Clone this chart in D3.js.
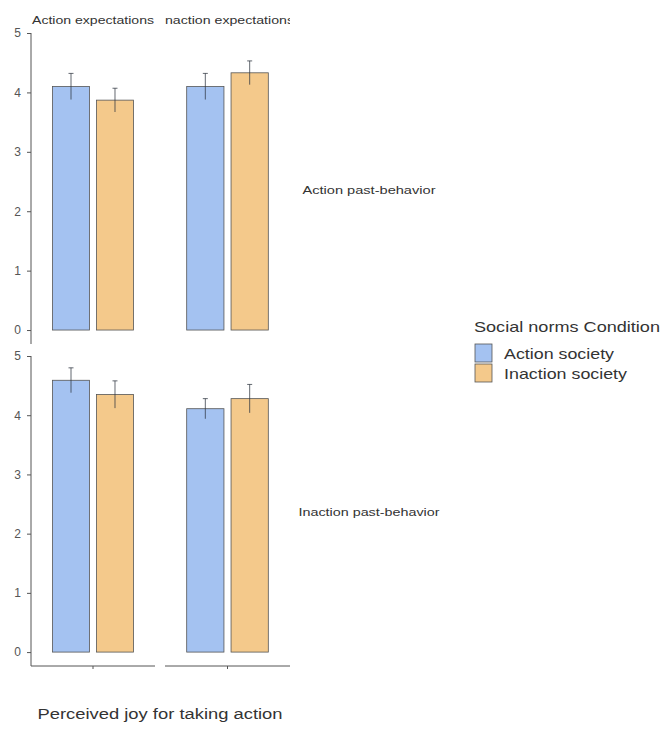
<!DOCTYPE html>
<html>
<head>
<meta charset="utf-8">
<script src="https://cdn.jsdelivr.net/npm/d3@7"></script>
<style>
  html, body { margin: 0; padding: 0; background: #fff; }
  svg { display: block; font-family: "Liberation Sans", Arial, sans-serif; }
</style>
</head>
<body>
<svg id="chart" width="663" height="729"></svg>
<script>
// Facet layout: columns = expectations, rows = past behaviour
const columns = ["Action expectations", "Inaction expectations"];
const rows = ["Action past-behavior", "Inaction past-behavior"];
const conditions = ["Action society", "Inaction society"];
const yTicks = [0, 1, 2, 3, 4, 5];

// Mean perceived joy, indexed [row][column][condition]
const means = [
  [[4.10, 3.87], [4.10, 4.33]],
  [[4.59, 4.35], [4.11, 4.28]]
];
// Error-bar half widths, same indexing
const errors = [
  [[0.22, 0.20], [0.22, 0.20]],
  [[0.21, 0.23], [0.17, 0.24]]
];

const colors = ["#a4c2f1", "#f4c98b"];

const svg = d3.select("#chart");

const panelX = [[31, 155], [165, 290]];
const panelY = [[33, 344], [356, 666]];

const color = d3.scaleOrdinal().domain(conditions).range(colors);

// Text helper: glyphs are drawn slightly wide, so each label is stretched to its width
function label(sel, width) {
  return sel.attr("textLength", width).attr("lengthAdjust", "spacingAndGlyphs");
}

rows.forEach((rowName, r) => {
  const y = d3.scaleLinear().domain([-0.235, 5]).range([panelY[r][1], panelY[r][0]]);

  columns.forEach((colName, c) => {
    const [x0, x1] = panelX[c];
    const outer = d3.scaleBand().domain(["joy"]).range([x0, x1]).padding(0.21);
    const inner = d3.scaleBand().domain(conditions).range([0, outer.bandwidth()]).paddingInner(0.16);

    const g = svg.append("g");
    const data = conditions.map((cond, k) => ({
      cond, mean: means[r][c][k], err: errors[r][c][k]
    }));

    g.selectAll("rect.bar").data(data).enter().append("rect")
      .attr("class", "bar")
      .attr("x", d => outer("joy") + inner(d.cond))
      .attr("width", inner.bandwidth())
      .attr("y", d => y(d.mean))
      .attr("height", d => y(0) - y(d.mean))
      .attr("fill", d => color(d.cond))
      .attr("stroke", "#555")
      .attr("stroke-width", 0.8);

    const cx = d => outer("joy") + inner(d.cond) + inner.bandwidth() / 2;
    const eb = g.selectAll("g.err").data(data).enter().append("g")
      .attr("class", "err")
      .attr("stroke", "#2f3540")
      .attr("stroke-opacity", 0.75)
      .attr("stroke-width", 1);
    eb.append("line")
      .attr("x1", cx).attr("x2", cx)
      .attr("y1", d => y(d.mean + d.err)).attr("y2", d => y(d.mean - d.err));
    eb.append("line")
      .attr("x1", d => cx(d) - 2.5).attr("x2", d => cx(d) + 2.5)
      .attr("y1", d => y(d.mean + d.err)).attr("y2", d => y(d.mean + d.err));

    // Y axis on the first column only
    if (c === 0) {
      const ya = svg.append("g")
        .attr("transform", `translate(${x0},0)`)
        .call(d3.axisLeft(y).tickValues(yTicks).tickFormat(d3.format("d")).tickSize(4).tickPadding(6));
      ya.select(".domain").attr("d", `M0,${panelY[r][0]}V${panelY[r][1]}`)
        .attr("stroke", "#555").attr("stroke-width", 1);
      ya.selectAll(".tick line").attr("stroke", "#555");
      ya.selectAll(".tick text").attr("fill", "#555").style("font-size", "12px");
    }

    // X axis on the bottom row only
    if (r === rows.length - 1) {
      const xa = svg.append("g")
        .attr("transform", `translate(0,${panelY[r][1]})`)
        .call(d3.axisBottom(outer).tickSize(3).tickFormat(""));
      xa.select(".domain").attr("d", `M${x0},0H${x1}`)
        .attr("stroke", "#555").attr("stroke-width", 1);
      xa.selectAll(".tick line").attr("stroke", "#555");
    }

    // Column strip labels, clipped to the panel width
    if (r === 0) {
      const clipId = "clip-col-" + c;
      svg.append("clipPath").attr("id", clipId)
        .append("rect").attr("x", x0).attr("y", 5).attr("width", x1 - x0).attr("height", 25);
      svg.append("text")
        .attr("clip-path", `url(#${clipId})`)
        .attr("x", (x0 + x1) / 2).attr("y", 24)
        .attr("text-anchor", "middle")
        .attr("fill", "#333")
        .style("font-size", "11.5px")
        .call(label, c === 0 ? 122 : 133)
        .text(colName);
    }
  });

  // Row strip labels
  svg.append("text")
    .attr("x", 369).attr("y", (panelY[r][0] + panelY[r][1]) / 2 + 5)
    .attr("text-anchor", "middle")
    .attr("fill", "#333")
    .style("font-size", "11.5px")
    .call(label, r === 0 ? 133 : 141)
    .text(rowName);
});

// X axis title
svg.append("text")
  .attr("x", 160).attr("y", 719)
  .attr("text-anchor", "middle")
  .attr("fill", "#333")
  .style("font-size", "15.5px")
  .call(label, 245)
  .text("Perceived joy for taking action");

// Legend
const legend = svg.append("g").attr("transform", "translate(474,0)");
legend.append("text")
  .attr("x", 0).attr("y", 332)
  .attr("fill", "#333")
  .style("font-size", "15px")
  .call(label, 186)
  .text("Social norms Condition");
const items = legend.selectAll("g.item").data(conditions).enter().append("g")
  .attr("class", "item")
  .attr("transform", (d, i) => `translate(0,${344 + i * 20})`);
items.append("rect")
  .attr("x", 1).attr("y", 0).attr("width", 17).attr("height", 18)
  .attr("fill", d => color(d))
  .attr("stroke", "#555").attr("stroke-width", 0.8);
items.append("text")
  .attr("x", 30).attr("y", 15)
  .attr("fill", "#333")
  .style("font-size", "15px")
  .each(function (d) { label(d3.select(this), d === "Action society" ? 110 : 123); })
  .text(d => d);
</script>
</body>
</html>
